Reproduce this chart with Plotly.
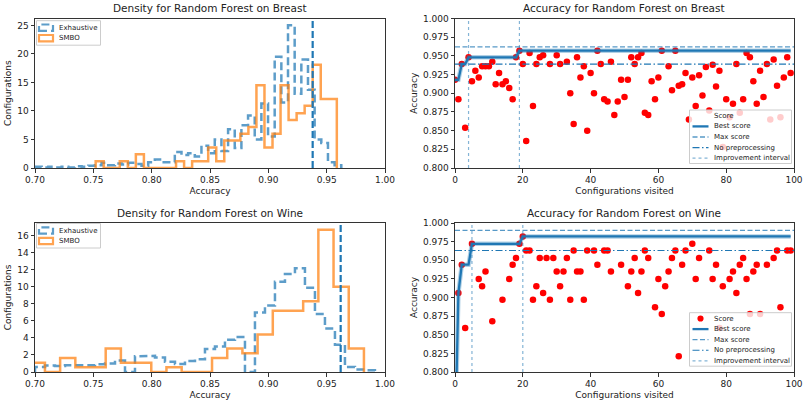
import numpy as np
import plotly.graph_objects as go
from plotly.subplots import make_subplots

# ---------------- data ----------------
# Breast density histograms (bin start, bin width, density heights)
breast_exh_start = 0.70
breast_exh_width = 0.005707
breast_exh_heights = [0.2, 0.1, 0.2, 0.1, 0.2, 0.1, 0.3, 0.2, 0.4, 0.5,
                      0.9, 0.5, 0.8, 0.6, 0.9, 0.7, 0.4, 1.0, 1.5, 1.0,
                      1.0, 2.8, 2.3, 2.6, 2.0, 3.9, 2.6, 5.0, 3.0, 6.8,
                      3.5, 7.5, 9.2, 5.0, 11.3, 5.5, 19.5, 11.5, 25.0, 13.0,
                      19.0, 13.7, 5.0, 4.4, 1.0, 0.5]
breast_smbo_start = 0.752
breast_smbo_width = 0.00689
breast_smbo_heights = [1.2, 0, 0, 1.2, 0, 2.4, 0, 0, 0, 0,
                       1.2, 0, 1.2, 1.2, 3.6, 1.2, 4.8, 4.8, 6.0, 7.2,
                       14.5, 3.6, 6.0, 14.5, 8.4, 9.6, 10.9, 18.1, 12.1, 12.1]
breast_best_acc = 0.938

# Wine density histograms
wine_exh_start = 0.70
wine_exh_width = 0.00857
wine_exh_heights = [0.6, 0.75, 0.7, 0.8, 0.8, 0.8, 0.9, 1.0, 1.35, 0,
                    1.85, 1.9, 1.7, 1.2, 0.95, 1.3, 1.5, 2.7, 3.0, 3.8,
                    4.1, 0, 7.0, 7.8, 10.6, 11.5, 12.2, 9.9, 6.8, 5.1,
                    3.2, 0.6, 0.3, 0.2]
wine_smbo_start = 0.6955
wine_smbo_width = 0.01302
wine_smbo_heights = [1.1, 0, 1.65, 0.55, 0.55, 2.75, 1.1, 1.1, 0, 0.55,
                     0, 0, 1.65, 2.75, 2.2, 4.4, 7.2, 7.2, 8.3, 16.7,
                     10.0, 2.75]
wine_best_acc = 0.962

# Accuracy per configuration visited
breast_scores = [0.918, 0.892, 0.939, 0.854, 0.948, 0.916, 0.930, 0.921, 0.936, 0.936,
                 0.936, 0.942, 0.912, 0.927, 0.912, 0.916, 0.907, 0.892, 0.948, 0.957,
                 0.939, 0.836, 0.954, 0.883, 0.939, 0.948, 0.951, 0.787, 0.939, 0.773,
                 0.951, 0.939, 0.790, 0.942, 0.900, 0.859, 0.948, 0.921, 0.936, 0.850,
                 0.927, 0.900, 0.957, 0.939, 0.892, 0.889, 0.942, 0.871, 0.889, 0.918,
                 0.895, 0.918, 0.948, 0.939, 0.948, 0.954, 0.874, 0.871, 0.916, 0.892,
                 0.921, 0.957, 0.755, 0.936, 0.904, 0.957, 0.910, 0.912, 0.927, 0.865,
                 0.921, 0.883, 0.924, 0.897, 0.935, 0.877, 0.938, 0.909, 0.930, 0.828,
                 0.892, 0.868, 0.886, 0.939, 0.874, 0.892, 0.954, 0.948, 0.916, 0.886,
                 0.930, 0.895, 0.939, 0.865, 0.945, 0.910, 0.868, 0.921, 0.948, 0.927]
breast_max_score = 0.962
breast_no_prep = 0.939
breast_improvements = [4, 19]

wine_scores = [0.700, 0.906, 0.944, 0.859, 0.780, 0.972, 0.750, 0.925, 0.915, 0.935,
               0.740, 0.868, 0.760, 0.720, 0.897, 0.780, 0.925, 0.944, 0.953, 0.972,
               0.982, 0.963, 0.963, 0.897, 0.915, 0.953, 0.906, 0.953, 0.897, 0.953,
               0.935, 0.915, 0.935, 0.953, 0.897, 0.963, 0.935, 0.935, 0.897, 0.963,
               0.770, 0.963, 0.944, 0.730, 0.963, 0.963, 0.935, 0.760, 0.710, 0.944,
               0.770, 0.915, 0.935, 0.953, 0.906, 0.935, 0.963, 0.953, 0.790, 0.887,
               0.925, 0.878, 0.915, 0.935, 0.953, 0.963, 0.821, 0.944, 0.963, 0.760,
               0.972, 0.925, 0.953, 0.730, 0.780, 0.963, 0.925, 0.944, 0.859, 0.915,
               0.770, 0.925, 0.935, 0.906, 0.944, 0.953, 0.925, 0.878, 0.935, 0.944,
               0.878, 0.720, 0.944, 0.760, 0.953, 0.963, 0.887, 0.790, 0.963, 0.963]
wine_max_score = 0.990
wine_no_prep = 0.963
wine_improvements = [5, 20]

titles = ["Density for Random Forest on Breast", "Accuracy for Random Forest on Breast",
          "Density for Random Forest on Wine", "Accuracy for Random Forest on Wine"]
hist_legend_labels = ["Exhaustive", "SMBO"]
acc_legend_labels = ["Score", "Best score", "Max score", "No preprocessing",
                     "Improvement interval"]

acc_ticks = [0.70, 0.75, 0.80, 0.85, 0.90, 0.95, 1.00]
score_ticks = [0.800, 0.825, 0.850, 0.875, 0.900, 0.925, 0.950, 0.975, 1.000]
iter_ticks = [0, 20, 40, 60, 80, 100]

# ---------------- style ----------------
FONT = "DejaVu Sans"
BLUE = "#1f77b4"
HIST_BLUE = "rgba(31,119,180,0.72)"
HIST_ORANGE = "rgba(255,127,14,0.72)"
LIGHT_BLUE = "rgba(31,119,180,0.75)"
FAINT_BLUE = "rgba(31,119,180,0.55)"
W, H = 809, 402

EXH_LINE = dict(color=HIST_BLUE, width=2.5, dash="8px,4px")
SMBO_LINE = dict(color=HIST_ORANGE, width=2.5)
BEST_LINE = dict(color=BLUE, width=2.3)
MAX_LINE = dict(color=LIGHT_BLUE, width=1.3, dash="5px,2.5px")
NOP_LINE = dict(color=BLUE, width=1.1, dash="7px,2.5px,1.5px,2.5px")
IMP_LINE = dict(color=FAINT_BLUE, width=1.2, dash="dot")


def step_path(start, width, heights):
    h = np.asarray(heights, dtype=float)
    edges = start + width * np.arange(len(h) + 1)
    xs = np.repeat(edges, 2)
    ys = np.concatenate([[0.0], np.repeat(h, 2), [0.0]])
    return xs, ys


fig = make_subplots(rows=2, cols=2, subplot_titles=titles)

panels = [
    dict(row=1, col=1, exh=(breast_exh_start, breast_exh_width, breast_exh_heights),
         smbo=(breast_smbo_start, breast_smbo_width, breast_smbo_heights),
         best=breast_best_acc),
    dict(row=2, col=1, exh=(wine_exh_start, wine_exh_width, wine_exh_heights),
         smbo=(wine_smbo_start, wine_smbo_width, wine_smbo_heights),
         best=wine_best_acc),
]
for p in panels:
    xs, ys = step_path(*p["exh"])
    fig.add_trace(go.Scatter(x=xs, y=ys, mode="lines", name="Exhaustive",
                             line=EXH_LINE), row=p["row"], col=p["col"])
    xs, ys = step_path(*p["smbo"])
    fig.add_trace(go.Scatter(x=xs, y=ys, mode="lines", name="SMBO",
                             line=SMBO_LINE), row=p["row"], col=p["col"])
    fig.add_vline(x=p["best"], line=dict(color=BLUE, width=2.2, dash="7px,3px"),
                  row=p["row"], col=p["col"])

YR = [0.8, 1.0]
XR = [0, 100]
acc_panels = [
    dict(row=1, col=2, scores=breast_scores, mx=breast_max_score, nop=breast_no_prep,
         imp=breast_improvements),
    dict(row=2, col=2, scores=wine_scores, mx=wine_max_score, nop=wine_no_prep,
         imp=wine_improvements),
]
for p in acc_panels:
    s = np.asarray(p["scores"])
    it = np.arange(len(s))
    best = np.maximum.accumulate(s)
    r, c = p["row"], p["col"]
    fig.add_trace(go.Scatter(x=it, y=s, mode="markers", name="Score",
                             marker=dict(color="red", size=6.5)), row=r, col=c)
    fig.add_trace(go.Scatter(x=it, y=best, mode="lines",
                             line=dict(color="rgba(31,119,180,0.35)", width=4.5),
                             hoverinfo="skip"), row=r, col=c)
    fig.add_trace(go.Scatter(x=it, y=best, mode="lines", name="Best score",
                             line=BEST_LINE), row=r, col=c)
    fig.add_trace(go.Scatter(x=XR, y=[p["mx"], p["mx"]], mode="lines", name="Max score",
                             line=MAX_LINE), row=r, col=c)
    fig.add_trace(go.Scatter(x=XR, y=[p["nop"], p["nop"]], mode="lines",
                             name="No preprocessing", line=NOP_LINE), row=r, col=c)
    vx, vy = [], []
    for v in p["imp"]:
        vx += [v, v, None]
        vy += [YR[0], YR[1], None]
    fig.add_trace(go.Scatter(x=vx, y=vy, mode="lines", name="Improvement interval",
                             line=IMP_LINE), row=r, col=c)

# ---------------- layout ----------------
def px_dom(a, b, total):
    return [a / total, b / total]

xdom_l = px_dom(35, 385, W)
xdom_r = px_dom(455, 794, W)
ydom_t = [1 - 168 / H, 1 - 18.5 / H]
ydom_b = [1 - 372 / H, 1 - 223 / H]

axis_common = dict(showline=True, mirror=True, linecolor="#333", linewidth=1,
                   ticks="outside", ticklen=3.5, tickwidth=1, tickcolor="#333",
                   showgrid=False, zeroline=False, automargin=False,
                   tickfont=dict(family=FONT, size=9, color="#222"),
                   title_font=dict(family=FONT, size=9, color="#222"))

fig.update_layout(
    width=W, height=H, margin=dict(l=0, r=0, t=0, b=0), showlegend=False,
    paper_bgcolor="white", plot_bgcolor="white",
    font=dict(family=FONT, size=9, color="#222"),
    xaxis=dict(domain=xdom_l, range=[0.70, 1.00], tickvals=acc_ticks, tickformat=".2f",
               title=dict(text="Accuracy", standoff=3), **axis_common),
    yaxis=dict(domain=ydom_t, range=[0, 26.2], tickvals=[0, 5, 10, 15, 20, 25],
               title=dict(text="Configurations", standoff=4), **axis_common),
    xaxis2=dict(domain=xdom_r, range=XR, tickvals=iter_ticks,
                title=dict(text="Configurations visited", standoff=3), **axis_common),
    yaxis2=dict(domain=ydom_t, range=YR, tickvals=score_ticks, tickformat=".3f",
                title=dict(text="Accuracy", standoff=3), **axis_common),
    xaxis3=dict(domain=xdom_l, range=[0.70, 1.00], tickvals=acc_ticks, tickformat=".2f",
                title=dict(text="Accuracy", standoff=3), **axis_common),
    yaxis3=dict(domain=ydom_b, range=[0, 17.5], tickvals=[0, 2, 4, 6, 8, 10, 12, 14, 16],
                title=dict(text="Configurations", standoff=4), **axis_common),
    xaxis4=dict(domain=xdom_r, range=XR, tickvals=iter_ticks,
                title=dict(text="Configurations visited", standoff=3), **axis_common),
    yaxis4=dict(domain=ydom_b, range=YR, tickvals=score_ticks, tickformat=".3f",
                title=dict(text="Accuracy", standoff=3), **axis_common),
)

# subplot titles
for ann, xd, yd in zip(fig.layout.annotations, [xdom_l, xdom_r, xdom_l, xdom_r],
                       [ydom_t, ydom_t, ydom_b, ydom_b]):
    ann.update(x=(xd[0] + xd[1]) / 2, y=yd[1] + 2.5 / H, yanchor="bottom",
               font=dict(family=FONT, size=10.5, color="#222"))


# ---------------- compact legends (drawn in paper pixels) ----------------
def px(x, y):
    return x / W, 1 - y / H


def legend_box(x0, y0, x1, y1):
    a, b = px(x0, y0)
    c, d = px(x1, y1)
    fig.add_shape(type="rect", xref="paper", yref="paper", x0=a, y0=d, x1=c, y1=b,
                  fillcolor="rgba(255,255,255,0.8)", line=dict(color="#cccccc", width=1),
                  layer="above")


def legend_text(x, y, text):
    a, b = px(x, y)
    fig.add_annotation(xref="paper", yref="paper", x=a, y=b, text=text, showarrow=False,
                       xanchor="left", yanchor="middle",
                       font=dict(family=FONT, size=7, color="#222"))


def legend_line(x0, x1, y, line):
    a, b = px(x0, y)
    c, _ = px(x1, y)
    fig.add_shape(type="line", xref="paper", yref="paper", x0=a, y0=b, x1=c, y1=b,
                  line=line, layer="above")


def legend_patch(x0, y0, x1, y1, line):
    a, b = px(x0, y0)
    c, d = px(x1, y1)
    fig.add_shape(type="rect", xref="paper", yref="paper", x0=a, y0=d, x1=c, y1=b,
                  line=line, fillcolor="rgba(0,0,0,0)", layer="above")


def legend_dot(x, y, r):
    a, b = px(x - r, y - r)
    c, d = px(x + r, y + r)
    fig.add_shape(type="circle", xref="paper", yref="paper", x0=a, y0=d, x1=c, y1=b,
                  fillcolor="red", line=dict(color="red", width=0), layer="above")


# histogram legends (top-left of each density panel)
for top in (20.7, 223.5):
    legend_box(36.5, top, 100.5, top + 24.5)
    ys = [top + 7.0, top + 17.5]
    for y, lab, ln in zip(ys, hist_legend_labels, [EXH_LINE, SMBO_LINE]):
        legend_patch(39, y - 3.2, 53, y + 3.2, dict(ln, width=2.2))
        legend_text(56.5, y, lab)

# accuracy legends (lower right of each accuracy panel)
for top, show_dot in ((110.0, False), (312.7, True)):
    legend_box(689.5, top, 791.5, top + 53.5)
    ys = [top + 5.8 + 10.6 * k for k in range(5)]
    if show_dot:
        legend_dot(700.5, ys[0], 3.1)
    for y, ln in zip(ys[1:], [BEST_LINE, MAX_LINE, NOP_LINE, IMP_LINE]):
        legend_line(692.5, 708.5, y, ln)
    for y, lab in zip(ys, acc_legend_labels):
        legend_text(711.5, y, lab)

fig.write_html("out.html")
